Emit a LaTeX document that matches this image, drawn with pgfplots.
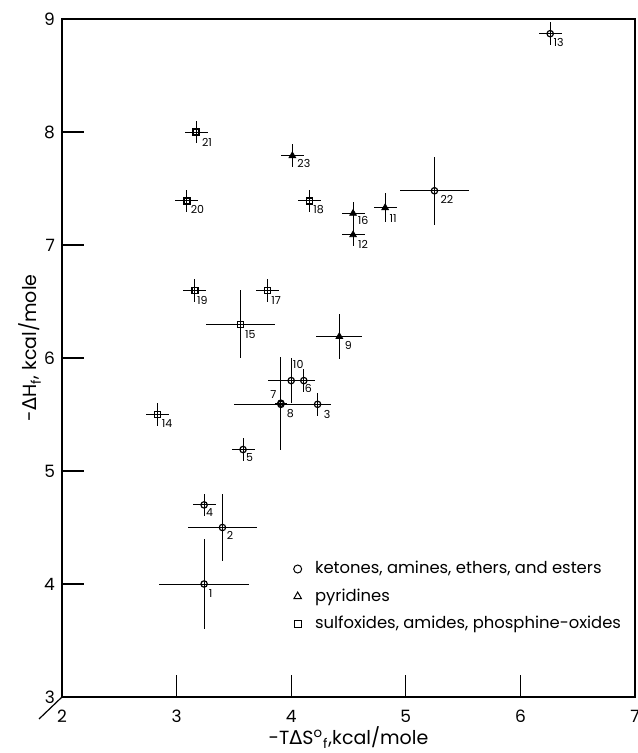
\documentclass[border=0pt]{standalone}
\usepackage{fontspec}
\setmainfont{Poppins}
\newfontfamily\gr{DejaVu Sans}
\usepackage{pgfplots}
\pgfplotsset{compat=1.18}
\usepackage{pgfplotstable}

% circles: ketones, amines, ethers, esters
\pgfplotstableread{
x y ex ey
3.24 4.00 0.39 0.40
3.40 4.50 0.30 0.30
4.23 5.59 0.12 0.10
3.24 4.70 0.10 0.10
3.58 5.19 0.10 0.10
4.11 5.80 0.10 0.10
3.91 5.60 0.05 0.41
3.91 5.59 0.41 0.05
4.00 5.80 0.20 0.20
6.26 8.87 0.10 0.10
5.25 7.48 0.30 0.30
}\circles
% triangles: pyridines
\pgfplotstableread{
x y ex ey
4.42 6.19 0.20 0.20
4.82 7.33 0.10 0.13
4.54 7.09 0.10 0.10
4.54 7.28 0.10 0.10
4.01 7.79 0.10 0.10
}\triangles
% squares: sulfoxides, amides, phosphine-oxides
\pgfplotstableread{
x y ex ey
2.83 5.50 0.10 0.10
3.56 6.30 0.30 0.30
3.79 6.60 0.10 0.10
4.16 7.39 0.10 0.10
3.16 6.60 0.10 0.10
3.09 7.39 0.10 0.10
3.17 8.00 0.10 0.10
}\squares
% point numbers with offsets (pt)
\pgfplotstableread{
x y lab dx dy
3.24 4.00 1 3.25 -4.75
3.40 4.50 2 3.75 -4.0
4.23 5.59 3 4.75 -5.0
3.24 4.70 4 2.75 -4.0
3.58 5.19 5 3.25 -3.75
4.11 5.80 6 2.25 -4.0
3.91 5.60 7 -3.75 4.25
3.91 5.59 8 4.75 -4.75
4.42 6.19 9 4.5 -4.25
4.00 5.80 10 3.5 8.0
4.82 7.33 11 4.0 -5.25
4.54 7.09 12 5.0 -4.75
6.26 8.87 13 4.25 -4.5
2.83 5.50 14 5.0 -4.5
3.56 6.30 15 4.75 -5.0
4.54 7.28 16 5.0 -3.75
3.79 6.60 17 4.5 -5.0
4.16 7.39 18 4.5 -4.5
3.16 6.60 19 3.75 -5.0
3.09 7.39 20 5.25 -4.5
3.17 8.00 21 5.5 -5.25
5.25 7.48 22 6.25 -4.5
4.01 7.79 23 5.75 -3.75
}\labels

\begin{document}
\begin{tikzpicture}
\begin{axis}[
  scale only axis,
  width=286.5pt, height=339pt,
  xmin=2, xmax=7, ymin=3, ymax=9,
  xtick={2,3,4,5,6,7}, ytick={3,4,5,6,7,8,9},
  tick pos=left, tick align=inside,
  major tick length=11pt,
  axis line style={line width=0.7pt},
  tick style={line width=0.6pt, black},
  /pgf/number format/assume math mode=true,
  tick label style={font=\fontsize{8.5}{10}\selectfont},
  xticklabel style={yshift=-3pt},
  every axis x label/.style={at={(axis description cs:0.5,0)}, yshift=-20.5pt, anchor=center},
  every axis y label/.style={at={(axis description cs:0,0.515)}, xshift=-16pt, rotate=90, anchor=center},
  label style={font=\fontsize{9.5}{11}\selectfont},
  xlabel={-T{\gr Δ}S\textsuperscript{o}\textsubscript{f},kcal/mole},
  ylabel={-{\gr Δ}H\textsubscript{f}, kcal/mole},
  error bars/error bar style={line width=0.5pt, black},
  legend style={at={(axis cs:3.99,4.24)}, anchor=north west, draw=none, fill=none,
    font=\fontsize{8.2}{9.5}\selectfont, row sep=2pt, inner sep=0pt},
  legend cell align=left,
  legend image code/.code={\draw[#1] plot coordinates {(0.12cm,0cm)}; \path (0,0) (0.12cm+6.5pt,0);},
]
\coordinate (sw) at (rel axis cs:0,0);
\coordinate (ne) at (rel axis cs:1,1);
\addlegendimage{only marks, mark=o, mark size=2pt, black, mark options={line width=0.5pt}}
\addlegendentry{ketones, amines, ethers, and esters}
\addlegendimage{only marks, mark=triangle, mark size=2.2pt, black, mark options={line width=0.5pt}}
\addlegendentry{pyridines}
\addlegendimage{only marks, mark=square, mark size=1.8pt, black, mark options={line width=0.5pt}}
\addlegendentry{sulfoxides, amides, phosphine-oxides}

\addplot[forget plot, only marks, black, mark=o, mark size=1.6pt, mark options={fill=none, line width=0.6pt},
  error bars/.cd, x dir=both, x explicit, y dir=both, y explicit, error mark=none]
  table[x=x, y=y, x error=ex, y error=ey]{\circles};
\addplot[forget plot, only marks, black, mark=triangle*, mark size=1.9pt, mark options={fill=black},
  error bars/.cd, x dir=both, x explicit, y dir=both, y explicit, error mark=none]
  table[x=x, y=y, x error=ex, y error=ey]{\triangles};
\addplot[forget plot, only marks, black, mark=square, mark size=1.5pt, mark options={fill=none, line width=0.6pt},
  error bars/.cd, x dir=both, x explicit, y dir=both, y explicit, error mark=none]
  table[x=x, y=y, x error=ex, y error=ey]{\squares};
\addplot[forget plot, only marks, mark=none, nodes near coords, point meta=explicit symbolic,
  visualization depends on={\thisrow{dx}\as\dx},
  visualization depends on={\thisrow{dy}\as\dy},
  nodes near coords style={anchor=center, inner sep=0pt, xshift=\dx pt, yshift=\dy pt,
    font=\fontsize{5.5}{6}\selectfont}]
  table[x=x, y=y, meta=lab]{\labels};
\end{axis}
\draw[line width=0.6pt] (sw) -- ++(-11.5pt,-11pt);
\pgfresetboundingbox
\path ([shift={(-31pt,-28pt)}]sw) rectangle ([shift={(1pt,9.5pt)}]ne);
\end{tikzpicture}
\end{document}
